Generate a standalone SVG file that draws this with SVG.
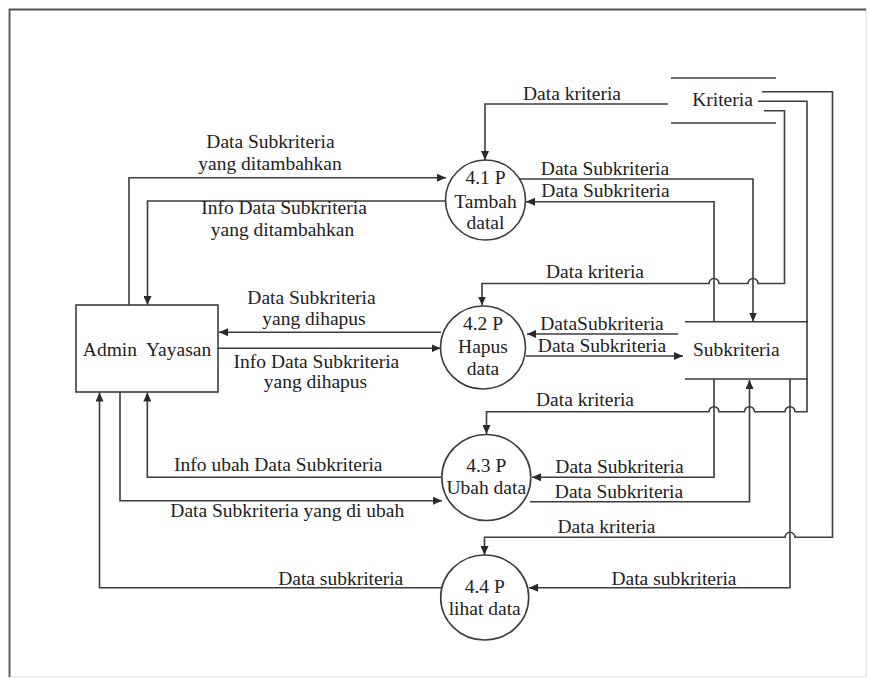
<svg xmlns="http://www.w3.org/2000/svg" width="869" height="679" viewBox="0 0 869 679">
  <style>
    .ln { fill: none; stroke: #3c3c3c; stroke-width: 1.6; }
    .arr { fill: none; stroke: #3c3c3c; stroke-width: 1.6; marker-end: url(#ah); }
    .proc { fill: #ffffff; stroke: #3c3c3c; stroke-width: 1.6; }
    text { font-family: "Liberation Serif", "Times New Roman", serif; font-size: 19.5px; fill: #222; text-anchor: middle; }
  </style>
  <defs>
    <marker id="ah" markerUnits="userSpaceOnUse" markerWidth="10" markerHeight="8" refX="9" refY="4" orient="auto">
      <path d="M0,0 L9,4 L0,8 z" fill="#2a2a2a"/>
    </marker>
  </defs>

  <!-- page -->
  <rect x="0" y="0" width="869" height="679" fill="#ffffff"/>
  <rect x="10" y="10" width="856" height="667" fill="#ffffff" stroke="#e2e2e2" stroke-width="1.2"/>
  <path d="M9.5,677 V9.5 H866" fill="none" stroke="#555" stroke-width="1.8"/>

  <!-- connectors -->
  <g id="connectors">
    <!-- Kriteria to 4.1 -->
    <path class="arr" d="M668,104 H485 V160"/>
    <!-- Kriteria to 4.2 -->
    <path class="arr" d="M764,110.7 H784.5 V283.5 H758 A5,5 0 0 0 748,283.5 H719 A5,5 0 0 0 709,283.5 H482 V305.5"/>
    <!-- Kriteria to 4.3 -->
    <path class="arr" d="M758,101.3 H807 V411.7 H795 A5,5 0 0 0 785,411.7 H754.5 A5,5 0 0 0 744.5,411.7 H719 A5,5 0 0 0 709,411.7 H486.5 V434"/>
    <!-- Kriteria to 4.4 -->
    <path class="arr" d="M762,91.7 H832.5 V537.3 H795 A5,5 0 0 0 785,537.3 H484.5 V555"/>

    <!-- 4.1 with Subkriteria -->
    <path class="arr" d="M518,179 H753 V321.5"/>
    <path class="arr" d="M714,321.7 V201.7 H526"/>
    <!-- Admin with 4.1 -->
    <path class="arr" d="M129,305 V177.7 H446"/>
    <path class="arr" d="M445,201 H147.5 V305"/>

    <!-- Admin with 4.2 -->
    <path class="arr" d="M441,332.3 H219"/>
    <path class="arr" d="M218,348.3 H440.5"/>
    <!-- 4.2 with Subkriteria -->
    <path class="arr" d="M678,334 H527"/>
    <path class="arr" d="M526,356 H683"/>

    <!-- Subkriteria with 4.3 -->
    <path class="arr" d="M714,379 V477.3 H532"/>
    <path class="arr" d="M530,501.7 H749.5 V380"/>
    <!-- 4.3 with Admin -->
    <path class="arr" d="M443,477.3 H147.3 V392.5"/>
    <path class="arr" d="M120,392 V500.7 H442"/>

    <!-- Subkriteria to 4.4 -->
    <path class="arr" d="M790,379 V587.7 H529"/>
    <!-- 4.4 to Admin -->
    <path class="arr" d="M441,587.7 H99.5 V392.5"/>
  </g>

  <!-- connector labels -->
  <g id="labels">
    <text x="572" y="100">Data kriteria</text>
    <text x="605" y="175">Data Subkriteria</text>
    <text x="605.5" y="197">Data Subkriteria</text>
    <text x="270.5" y="148">Data Subkriteria</text>
    <text x="270" y="169.5">yang ditambahkan</text>
    <text x="284" y="214">Info Data Subkriteria</text>
    <text x="282.5" y="235.5">yang ditambahkan</text>

    <text x="595" y="278">Data kriteria</text>
    <text x="311.5" y="304">Data Subkriteria</text>
    <text x="314" y="325">yang dihapus</text>
    <text x="316.4" y="367.5">Info Data Subkriteria</text>
    <text x="315.5" y="388">yang dihapus</text>
    <text x="602" y="330">DataSubkriteria</text>
    <text x="602" y="351.7">Data Subkriteria</text>

    <text x="585" y="406">Data kriteria</text>
    <text x="619.5" y="473.3">Data Subkriteria</text>
    <text x="619" y="498.3">Data Subkriteria</text>
    <text x="278.3" y="471">Info ubah Data Subkriteria</text>
    <text x="287.3" y="516.5">Data Subkriteria yang di ubah</text>

    <text x="606.5" y="533">Data kriteria</text>
    <text x="340.7" y="585">Data subkriteria</text>
    <text x="674" y="585">Data subkriteria</text>
  </g>

  <!-- external entity -->
  <g id="admin-yayasan">
    <rect x="76" y="305" width="142" height="87" fill="#ffffff" stroke="#3c3c3c" stroke-width="1.6"/>
    <text x="147" y="355.5" xml:space="preserve">Admin  Yayasan</text>
  </g>

  <!-- data stores -->
  <g id="kriteria">
    <path class="ln" d="M671,78 H776 M671,123 H776"/>
    <text x="722.5" y="106">Kriteria</text>
  </g>
  <g id="subkriteria">
    <path class="ln" d="M685,321.7 H808 M685,379 H808"/>
    <text x="736.3" y="356">Subkriteria</text>
  </g>

  <!-- processes -->
  <g id="p41">
    <circle class="proc" cx="485.5" cy="200" r="40"/>
    <text x="485.5" y="184">4.1 P</text>
    <text x="485.5" y="208">Tambah</text>
    <text x="485.5" y="229">datal</text>
  </g>
  <g id="p42">
    <ellipse class="proc" cx="483" cy="347.5" rx="42.5" ry="41.5"/>
    <text x="483" y="330">4.2 P</text>
    <text x="483" y="353">Hapus</text>
    <text x="483" y="375">data</text>
  </g>
  <g id="p43">
    <ellipse class="proc" cx="486.3" cy="477.5" rx="44.5" ry="43"/>
    <text x="486.3" y="471.7">4.3 P</text>
    <text x="486.3" y="494">Ubah data</text>
  </g>
  <g id="p44">
    <ellipse class="proc" cx="484.7" cy="597.5" rx="44" ry="42.5"/>
    <text x="484.7" y="593">4.4 P</text>
    <text x="484.7" y="615">lihat data</text>
  </g>
</svg>
